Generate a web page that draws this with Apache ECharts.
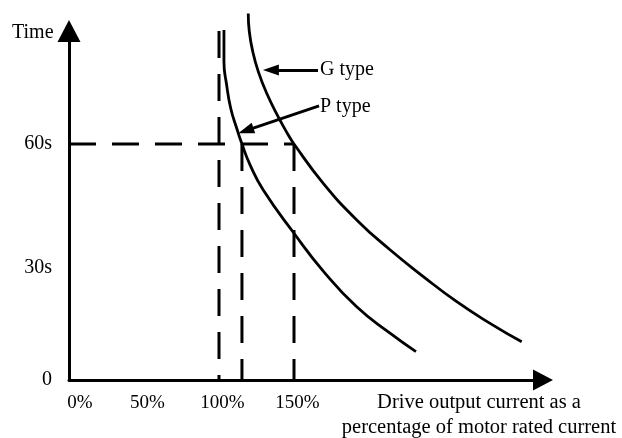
<!DOCTYPE html>
<html>
<head>
<meta charset="utf-8">
<script src="https://cdn.jsdelivr.net/npm/echarts@6/dist/echarts.min.js"></script>
<style>
  html, body { margin: 0; padding: 0; background: #fff; }
  #chart { width: 622px; height: 438px; }
</style>
</head>
<body>
<div id="chart"></div>
<script>
// Overload curves: current (% of motor rated current) vs. allowed time (s)
const pTypeCurrent = [103.3, 103.3, 105.1, 107.8, 111.8, 115.3, 120.7, 129.5, 150, 169.5, 191.8, 214, 231.3];
const pTypeTime    = [89.0, 80.9, 75.0, 69.1, 64.0, 60, 54.7, 48.3, 37.3, 27.7, 18.6, 11.9, 7.2];
const gTypeCurrent = [119.5, 120.2, 122.5, 126.2, 131.8, 139.5, 146.2, 150, 169.5, 191.8, 214, 236.2, 258.5, 280.7, 301.8];
const gTypeTime    = [93.2, 88.6, 83.5, 78.4, 72.9, 66.9, 62.3, 60, 50.0, 40.7, 33.1, 26.3, 19.9, 14.4, 9.7];

// Tick labels
const xTickLabels = { 0: '0%', 50: '50%', 100: '100%', 150: '150%' };
const yTickLabels = { 0: '0', 30: '30s', 60: '60s' };

// Reference levels (dashed guides)
const ratedCurrent = 100;
const ratedTop = 88.7;
const pTypeAt60 = 115.3;
const gTypeAt60 = 150;
const limitTime = 60;

const FONT = '"Liberation Serif", "Times New Roman", serif';
const BLACK = '#000';

const pairs = (xs, ys) => xs.map((x, i) => [x, ys[i]]);

function curve(name, xs, ys) {
  return {
    name,
    type: 'line',
    data: pairs(xs, ys),
    smooth: 0.5,
    showSymbol: false,
    symbol: 'none',
    clip: false,
    silent: true,
    lineStyle: { color: BLACK, width: 2.8 }
  };
}

function guide(points) {
  return {
    type: 'line',
    data: points,
    showSymbol: false,
    symbol: 'none',
    clip: false,
    silent: true,
    lineStyle: { color: BLACK, width: 3, type: [27, 16], cap: 'butt' }
  };
}

const chart = echarts.init(document.getElementById('chart'), null, { renderer: 'canvas' });

chart.setOption({
  animation: false,
  backgroundColor: '#fff',
  grid: { left: 69, top: 42, width: 464, height: 338, containLabel: false },
  xAxis: {
    type: 'value',
    min: 0,
    max: 309.33,
    interval: 50,
    splitLine: { show: false },
    axisTick: { show: false },
    axisLine: {
      onZero: false,
      lineStyle: { color: BLACK, width: 3 },
      symbol: ['none', 'triangle'],
      symbolSize: [21, 20],
      symbolOffset: [0, 10]
    },
    axisLabel: {
      margin: 14,
      fontFamily: FONT,
      fontSize: 19,
      color: BLACK,
      formatter: v => {
        const t = xTickLabels[v];
        if (t === undefined) return '';
        return v === 0 ? '{a|' + t + '}' : '{b|' + t + '}';
      },
      rich: {
        a: { fontFamily: FONT, fontSize: 19, color: BLACK, padding: [0, 0, 0, 22] },
        b: { fontFamily: FONT, fontSize: 19, color: BLACK, padding: [0, 0, 0, 7] }
      }
    }
  },
  yAxis: {
    type: 'value',
    min: 0,
    max: 85.93,
    interval: 30,
    splitLine: { show: false },
    axisTick: { show: false },
    axisLine: {
      onZero: false,
      lineStyle: { color: BLACK, width: 3 },
      symbol: ['none', 'triangle'],
      symbolSize: [23, 22],
      symbolOffset: [0, 11]
    },
    axisLabel: {
      margin: 17,
      fontFamily: FONT,
      fontSize: 20,
      color: BLACK,
      formatter: v => {
        const t = yTickLabels[v];
        if (t === undefined) return '';
        return v === 30 ? '{d|' + t + '}' : t;
      },
      rich: {
        d: { fontFamily: FONT, fontSize: 20, color: BLACK, padding: [12, 0, 0, 0] }
      }
    }
  },
  series: [
    guide([[0, limitTime], [gTypeAt60, limitTime]]),
    guide([[ratedCurrent, ratedTop], [ratedCurrent, 0]]),
    guide([[pTypeAt60, limitTime], [pTypeAt60, 0]]),
    guide([[gTypeAt60, limitTime], [gTypeAt60, 0]]),
    curve('P type', pTypeCurrent, pTypeTime),
    Object.assign(curve('G type', gTypeCurrent, gTypeTime), {
      markLine: {
        silent: true,
        label: { show: false },
        lineStyle: { color: BLACK, width: 3, type: 'solid' },
        data: [
          [
            { coord: [166, 78.8], symbol: 'none' },
            { coord: [134.6, 78.8], symbol: 'triangle', symbolSize: [11, 16] }
          ],
          [
            { coord: [166.7, 69.7], symbol: 'none' },
            { coord: [117.9, 63.4], symbol: 'triangle', symbolSize: [11, 16] }
          ]
        ]
      }
    })
  ],
  graphic: [
    {
      type: 'text', x: 12, y: 33,
      style: { text: 'Time', font: '20px ' + FONT, fill: BLACK, align: 'left', verticalAlign: 'middle' }
    },
    {
      type: 'text', x: 320, y: 70,
      style: { text: 'G type', font: '20px ' + FONT, fill: BLACK, align: 'left', verticalAlign: 'middle' }
    },
    {
      type: 'text', x: 320, y: 107,
      style: { text: 'P type', font: '20px ' + FONT, fill: BLACK, align: 'left', verticalAlign: 'middle' }
    },
    {
      type: 'text', x: 479, y: 390,
      style: {
        text: 'Drive output current as a\npercentage of motor rated current',
        font: '20.5px ' + FONT, fill: BLACK, align: 'center', verticalAlign: 'top', lineHeight: 25
      }
    }
  ]
});
</script>
</body>
</html>
